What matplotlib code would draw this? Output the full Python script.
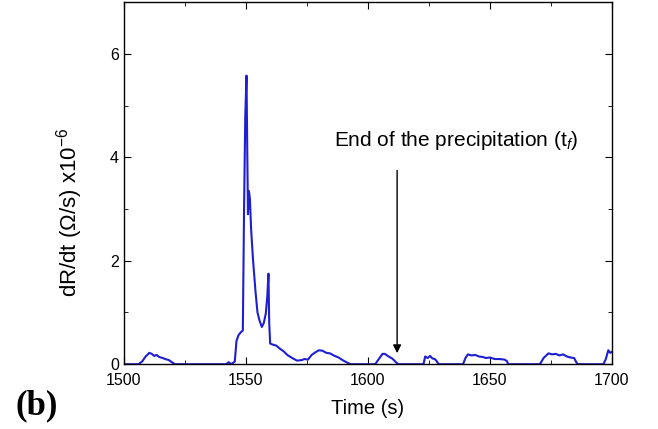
import matplotlib.pyplot as plt
import numpy as np

plt.rcParams["font.family"] = ["Liberation Sans", "DejaVu Sans"]
plt.rcParams["mathtext.fontset"] = "custom"
plt.rcParams["mathtext.rm"] = "Liberation Sans"
plt.rcParams["mathtext.it"] = "Liberation Sans:italic"

# time (s) and dR/dt (x1e-6 ohm/s)
time = [1500, 1506, 1507.5, 1509, 1510.5, 1511.5, 1512.5, 1513.5, 1514.5, 1516, 1517, 1518.5, 1520, 1521,
        1542, 1543, 1544, 1545.5, 1546.2, 1547, 1548, 1548.8, 1549.3, 1549.8, 1550.3, 1550.6, 1550.9,
        1551.3, 1551.7, 1552.2, 1553, 1554, 1554.8, 1555.6, 1556.6, 1557.4, 1558.2, 1558.8, 1559.3,
        1559.6, 1560, 1561, 1562.5, 1564, 1565.5, 1567, 1569, 1571, 1573, 1574, 1575.5, 1577, 1578.5,
        1580, 1581.5, 1583, 1584.5, 1586, 1588, 1590, 1592, 1593,
        1603, 1604.5, 1606, 1607, 1608.5, 1610, 1611.5, 1612.5,
        1622.8, 1623.5, 1624.5, 1625.5, 1626.5, 1627.5, 1628.5, 1629,
        1639, 1640, 1641, 1642.5, 1644, 1645.5, 1647, 1648.5, 1650, 1652, 1654, 1656, 1657, 1657.5,
        1670.5, 1672, 1674, 1675.5, 1677, 1678.5, 1680, 1681.5, 1683, 1684.5, 1685.5, 1686,
        1696.5, 1697.5, 1698.5, 1699.3, 1700]
dRdt = [0, 0, 0.05, 0.15, 0.22, 0.2, 0.16, 0.18, 0.14, 0.12, 0.1, 0.08, 0.03, 0,
        0, 0.04, 0, 0.05, 0.45, 0.56, 0.62, 0.65, 3.0, 4.8, 5.58, 4.2, 2.9,
        3.35, 3.2, 2.6, 2.0, 1.4, 1.0, 0.85, 0.72, 0.8, 0.98, 1.3, 1.75,
        0.8, 0.4, 0.38, 0.36, 0.3, 0.25, 0.18, 0.12, 0.07, 0.08, 0.1, 0.09, 0.18, 0.23,
        0.27, 0.26, 0.22, 0.21, 0.17, 0.13, 0.07, 0.02, 0,
        0, 0.1, 0.2, 0.2, 0.15, 0.11, 0.04, 0,
        0, 0.15, 0.12, 0.16, 0.11, 0.1, 0.04, 0,
        0, 0.12, 0.19, 0.17, 0.18, 0.15, 0.14, 0.12, 0.13, 0.1, 0.1, 0.09, 0.06, 0,
        0, 0.12, 0.21, 0.19, 0.2, 0.17, 0.19, 0.15, 0.13, 0.12, 0.03, 0,
        0, 0.1, 0.27, 0.22, 0.24]

fig = plt.figure(figsize=(6.58, 4.29), dpi=100)
ax = fig.add_axes([0.188, 0.151, 0.742, 0.844])
ax.plot(np.array(time), np.array(dRdt), color="#1e1ed2", lw=1.5)

ax.set_xlim(1500, 1700)
ax.set_ylim(0, 7)
ax.set_xticks([1500, 1550, 1600, 1650, 1700])
ax.set_xticks(np.arange(1525, 1700, 50), minor=True)
ax.set_yticks([0, 2, 4, 6])
ax.set_yticks([1, 3, 5], minor=True)
ax.tick_params(which="both", direction="in", top=True, right=True, labelsize=11.5)
ax.tick_params(axis="x", pad=6)
ax.tick_params(which="major", length=5)
ax.tick_params(which="minor", length=3)
for s in ax.spines.values():
    s.set_linewidth(1.0)

ax.set_xlabel("Time (s)", fontsize=14.5, labelpad=8)
ax.set_ylabel(r"dR/dt ($\Omega$/s) x10$^{-6}$", fontsize=16)
ax.yaxis.set_label_coords(-0.08, 0.42)

ax.annotate("", xy=(1612, 0.16), xytext=(1612, 3.8),
            arrowprops=dict(arrowstyle="-|>", color="black", lw=1.0, mutation_scale=12))
ax.text(1586, 4.33, r"End of the precipitation (t$_f$)", fontsize=15, va="center")

fig.text(0.023, 0.054, "(b)", fontsize=25, fontweight="bold", family="Liberation Serif", va="center")

fig.savefig("out.png", dpi=100)
